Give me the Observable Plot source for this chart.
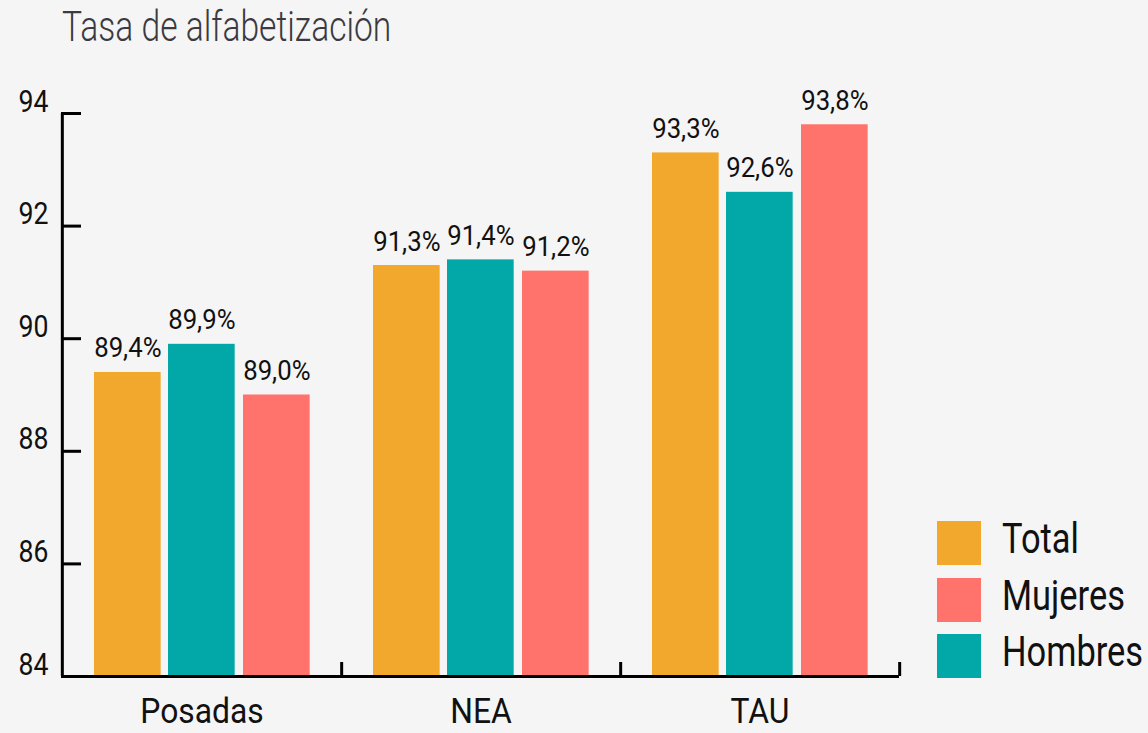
<!DOCTYPE html>
<html>
<head>
<meta charset="utf-8">
<script src="https://cdn.jsdelivr.net/npm/d3@7"></script>
<script src="https://cdn.jsdelivr.net/npm/@observablehq/plot@0.6"></script>
<style>
  html, body { margin: 0; padding: 0; background: #f5f5f5; }
  #wrap { position: relative; width: 1148px; height: 733px; overflow: hidden; font-family: Roboto, sans-serif; }
  #title { position: absolute; left: 62px; top: 6px; font-size: 42px; line-height: 1; color: #3b3a42; white-space: nowrap;
           font-weight: 300; transform: scaleX(0.8); transform-origin: 0 0; }
  .sw { position: absolute; width: 44px; height: 44px; }
  .lt { position: absolute; font-size: 42px; line-height: 1; color: #111; white-space: nowrap;
        transform: scaleX(0.82); transform-origin: 0 0; }
</style>
</head>
<body>
<div id="wrap">
  <div id="chart"></div>
  <div id="title">Tasa de alfabetización</div>
  <div id="legend"></div>
</div>
<script>
const groups = ["Posadas", "NEA", "TAU"];
const series = ["Total", "Hombres", "Mujeres"];
const total = [89.4, 91.3, 93.3];
const hombres = [89.9, 91.4, 92.6];
const mujeres = [89.0, 91.2, 93.8];
const yTicks = [84, 86, 88, 90, 92, 94];
const legendOrder = ["Total", "Mujeres", "Hombres"];
const colors = {Total: "#f2a72d", Hombres: "#02a7a8", Mujeres: "#ff736c"};

const valuesBySeries = {Total: total, Hombres: hombres, Mujeres: mujeres};
const W = 1148, H = 733;
const mL = 61, mR = 249, mT = 113, mB = 57;
const frameW = W - mL - mR, frameH = H - mT - mB;
const bw = frameW / groups.length;
const barW = 67, offsets = [32, 106, 181];
const fmt = v => v.toFixed(1).replace(".", ",") + "%";
const yMin = yTicks[0], yMax = yTicks[yTicks.length - 1];

const marks = [];
series.forEach((s, i) => {
  const data = groups.map((g, j) => ({group: g, value: valuesBySeries[s][j]}));
  marks.push(Plot.barY(data, {
    x: "group", y1: () => yMin, y2: "value", fill: colors[s],
    insetLeft: offsets[i], insetRight: bw - offsets[i] - barW
  }));
  marks.push(Plot.text(data, {
    x: "group", y: "value", text: d => fmt(d.value),
    dx: offsets[i] + barW / 2 - bw / 2, dy: -15, lineAnchor: "bottom",
    fontSize: 28, fill: "#111"
  }));
});
// axes
marks.push(Plot.ruleY([yMin], {stroke: "#000", strokeWidth: 3}));
marks.push(Plot.ruleX([groups[0]], {dx: -bw / 2, y1: yMin, y2: yMax, stroke: "#000", strokeWidth: 3}));
marks.push(Plot.ruleY(yTicks, {y: d => d, insetRight: frameW - 20, stroke: "#000", strokeWidth: 3}));
marks.push(Plot.ruleX(groups, {x: d => d, dx: bw / 2, insetTop: frameH - 14, stroke: "#000", strokeWidth: 3}));
marks.push(Plot.axisY(yTicks, {tickSize: 0, tickPadding: 13, fontSize: 31, lineAnchor: "bottom", dy: -2, fill: "#111", tickFormat: d => d}));
marks.push(Plot.axisX({tickSize: 0, tickPadding: 22, fontSize: 35, fill: "#111"}));

const chart = Plot.plot({
  width: W, height: H,
  marginLeft: mL, marginRight: mR, marginTop: mT, marginBottom: mB,
  x: {domain: groups, padding: 0, label: null},
  y: {domain: [yMin, yMax], label: null},
  style: {background: "#f5f5f5", fontFamily: "Roboto, sans-serif", color: "#111"},
  marks
});
// condense text horizontally to mimic the narrow typeface
function condense(selector, k) {
  chart.querySelectorAll(selector).forEach(t => {
    const tr = t.getAttribute("transform") || "";
    t.setAttribute("transform", tr + ` scale(${k},1)`);
  });
}
condense('g[aria-label="text"] text', 0.92);
condense('g[aria-label="y-axis tick label"] text', 0.86);
condense('g[aria-label="x-axis tick label"] text', 0.91);
document.getElementById("chart").appendChild(chart);

const legend = document.getElementById("legend");
const tops = [521, 578, 634];
legendOrder.forEach((s, i) => {
  const sw = document.createElement("div");
  sw.className = "sw";
  sw.style.left = "937px"; sw.style.top = tops[i] + "px"; sw.style.background = colors[s];
  legend.appendChild(sw);
  const t = document.createElement("div");
  t.className = "lt";
  t.style.left = "1002px"; t.style.top = (tops[i] - 3) + "px";
  t.textContent = s;
  legend.appendChild(t);
});
</script>
</body>
</html>
